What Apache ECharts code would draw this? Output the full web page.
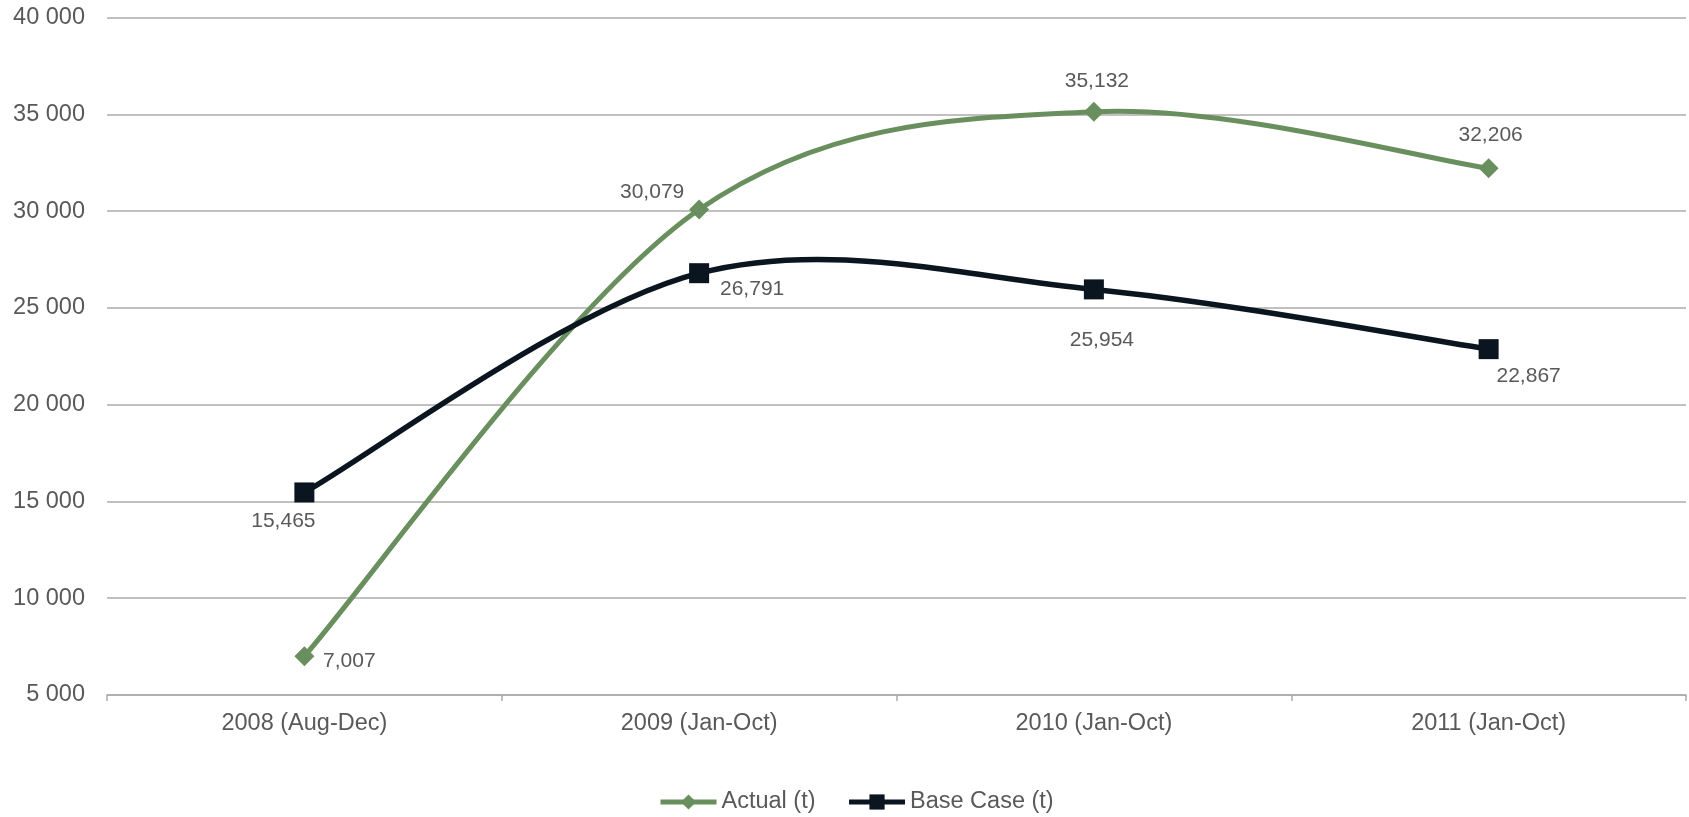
<!DOCTYPE html>
<html>
<head>
<meta charset="utf-8">
<script src="https://cdn.jsdelivr.net/npm/echarts@6/dist/echarts.min.js"></script>
<style>
html,body{margin:0;padding:0;background:#fff;}
#chart{width:1689px;height:817px;}
</style>
</head>
<body>
<div id="chart"></div>
<script>
// ---- data ----
const categories = ['2008 (Aug-Dec)', '2009 (Jan-Oct)', '2010 (Jan-Oct)', '2011 (Jan-Oct)'];
const actual = [7007, 30079, 35132, 32206];
const baseCase = [15465, 26791, 25954, 22867];
const seriesNames = ['Actual (t)', 'Base Case (t)'];
const yMin = 5000;
const yMax = 40000;
const yStep = 5000;

// ---- styles ----
const GREEN = '#6a8f5e';
const DARK = '#0b1520';
const TEXT = '#595959';
const FONT = '"Liberation Sans", Arial, sans-serif';
const actualLabelOffsets = [[45, 5], [-47, -17], [3, -31], [2, -33]];
const baseLabelOffsets = [[-21, 29], [53, 16], [8, 51], [40, 27]];

function fmtComma(v) { return String(v).replace(/\B(?=(\d{3})+(?!\d))/g, ','); }
function fmtSpace(v) { return String(v).replace(/\B(?=(\d{3})+(?!\d))/g, ' '); }

// Excel-like smoothed curve (Catmull-Rom style bezier), positioned through the axes
function makeRender(values, color, width) {
  return function (params, api) {
    const i = params.dataIndex;
    const n = values.length;
    if (i >= n - 1) return { type: 'group', children: [] };
    const P = k => { const kk = Math.max(0, Math.min(n - 1, k)); return api.coord([kk, values[kk]]); };
    const p0 = P(i - 1), p1 = P(i), p2 = P(i + 1), p3 = P(i + 2);
    return {
      type: 'bezierCurve',
      shape: {
        x1: p1[0], y1: p1[1], x2: p2[0], y2: p2[1],
        cpx1: p1[0] + (p2[0] - p0[0]) / 6, cpy1: p1[1] + (p2[1] - p0[1]) / 6,
        cpx2: p2[0] - (p3[0] - p1[0]) / 6, cpy2: p2[1] - (p3[1] - p1[1]) / 6
      },
      style: { stroke: color, lineWidth: width, fill: null, lineCap: 'round', lineJoin: 'round' }
    };
  };
}

function pointData(values, offsets) {
  return values.map((v, k) => ({ value: v, label: { offset: offsets[k] } }));
}

const chart = echarts.init(document.getElementById('chart'), null, { renderer: 'canvas' });
chart.setOption({
  animation: false,
  backgroundColor: '#ffffff',
  textStyle: { fontFamily: FONT },
  grid: { left: 107, right: 3, top: 17.5, bottom: 122, containLabel: false },
  legend: {
    left: 653, top: 785,
    itemWidth: 56, itemHeight: 19, itemGap: 31,
    textStyle: { color: TEXT, fontSize: 23.5, fontFamily: FONT },
    selectedMode: false,
    data: [
      { name: seriesNames[0], lineStyle: { opacity: 1, width: 5, color: GREEN } },
      { name: seriesNames[1], lineStyle: { opacity: 1, width: 5, color: DARK } }
    ]
  },
  xAxis: {
    type: 'category',
    data: categories,
    boundaryGap: true,
    axisLine: { lineStyle: { color: '#ababab', width: 1.5 } },
    axisTick: { show: true, length: 6, lineStyle: { color: '#ababab', width: 1.5 } },
    axisLabel: { color: TEXT, fontSize: 23.5, fontFamily: FONT, margin: 17 },
    splitLine: { show: false }
  },
  yAxis: {
    type: 'value',
    min: yMin, max: yMax, interval: yStep,
    axisLine: { show: false },
    axisTick: { show: false },
    axisLabel: { color: TEXT, fontSize: 23.5, fontFamily: FONT, margin: 22, formatter: fmtSpace },
    splitLine: { lineStyle: { color: '#ababab', width: 1.5 } }
  },
  series: [
    {
      name: 'actualCurve', type: 'custom', silent: true, z: 2,
      renderItem: makeRender(actual, GREEN, 5),
      encode: { x: 0, y: 1 },
      data: actual.map((v, k) => [k, v])
    },
    {
      name: 'baseCurve', type: 'custom', silent: true, z: 3,
      renderItem: makeRender(baseCase, DARK, 5.5),
      encode: { x: 0, y: 1 },
      data: baseCase.map((v, k) => [k, v])
    },
    {
      name: seriesNames[0], type: 'line', z: 4, silent: true,
      symbol: 'diamond', symbolSize: 20, showAllSymbol: true,
      itemStyle: { color: GREEN },
      lineStyle: { opacity: 0, color: GREEN, width: 5 },
      label: { show: true, position: 'inside', color: TEXT, fontSize: 21, fontFamily: FONT, formatter: p => fmtComma(p.value) },
      emphasis: { disabled: true },
      data: pointData(actual, actualLabelOffsets)
    },
    {
      name: seriesNames[1], type: 'line', z: 5, silent: true,
      symbol: 'rect', symbolSize: 20, showAllSymbol: true,
      itemStyle: { color: DARK },
      lineStyle: { opacity: 0, color: DARK, width: 5 },
      label: { show: true, position: 'inside', color: TEXT, fontSize: 21, fontFamily: FONT, formatter: p => fmtComma(p.value) },
      emphasis: { disabled: true },
      data: pointData(baseCase, baseLabelOffsets)
    }
  ]
});
</script>
</body>
</html>
